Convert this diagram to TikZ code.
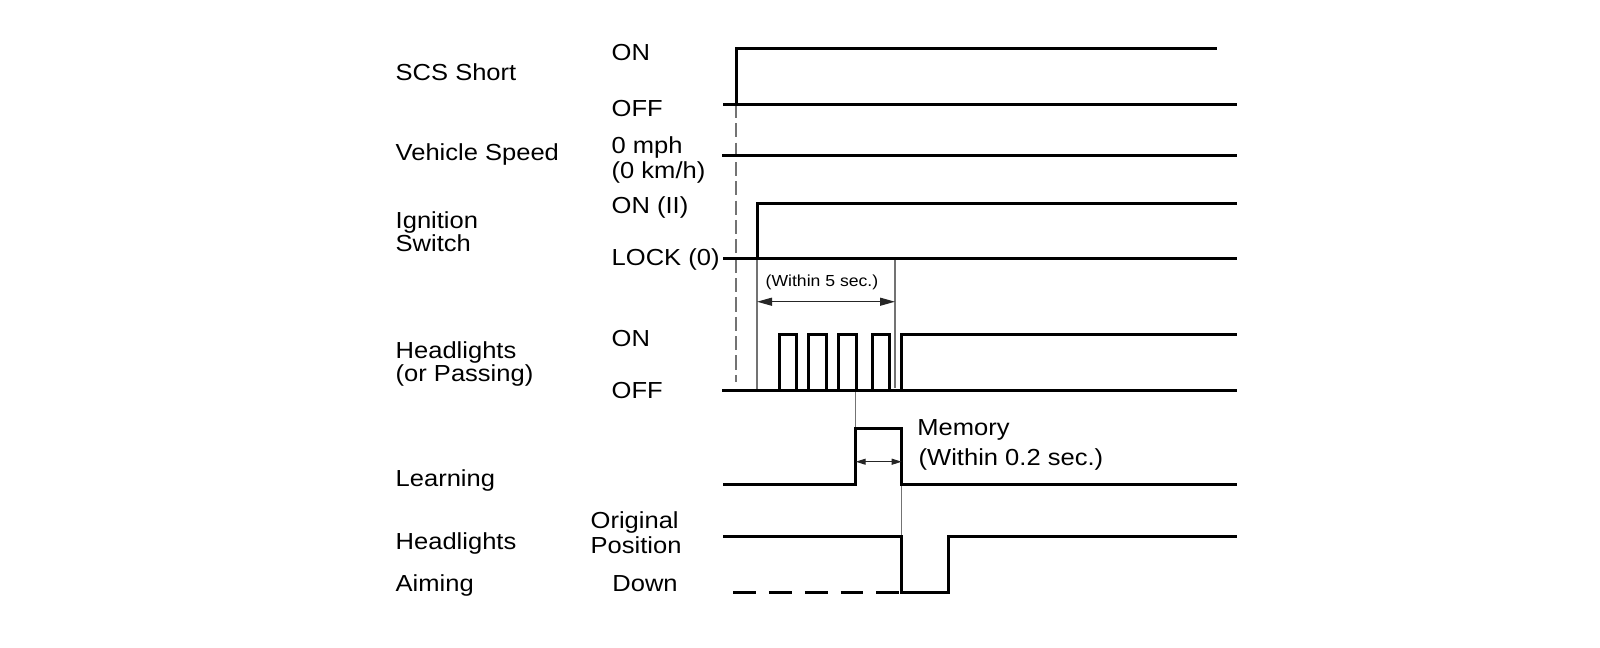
\documentclass[tikz,border=0pt]{standalone}
\usepackage{fontspec}
\setmainfont{Liberation Sans}[FakeStretch=1.1]
\usetikzlibrary{arrows.meta}
\tikzset{
tdsig/.style={line width=0.85pt,line join=miter},
tdguide/.style={black!55,line width=0.3pt},
tdguidedash/.style={tdguide,dash pattern=on 4pt off 1.5pt},
tdlast/.style={tdsig,dash pattern=on 6.5pt off 3.7pt},
tdspan/.style={{Triangle[length=1.5mm,width=0.8mm]}-{Triangle[length=1.5mm,width=0.8mm]},line width=0.35pt,black!85},
tdspansmall/.style={{Triangle[length=1mm,width=0.6mm]}-{Triangle[length=1mm,width=0.6mm]},line width=0.3pt,black!85},
tdtext/.style={anchor=base west,inner sep=0pt,font=\fontsize{6.6}{7}\selectfont},
tdsmall/.style={tdtext,font=\fontsize{4.55}{5}\selectfont}
}
\begin{document}
\begin{tikzpicture}[x=0.01cm,y=-0.01cm]
\useasboundingbox (0,0) rectangle (1600,647);
% signal names
\node[tdtext] (scs) at (395,80.7) {SCS Short};
\node[tdtext] (speed) at (395,160) {Vehicle Speed};
\node[tdtext] (ign) at (395,228) {Ignition};
\node[tdtext] (ignb) at (395,251.5) {Switch};
\node[tdtext] (head) at (395,358.3) {Headlights};
\node[tdtext] (headb) at (395,381.7) {(or Passing)};
\node[tdtext] (learn) at (395,486) {Learning};
\node[tdtext] (aim) at (395,549.3) {Headlights};
\node[tdtext] (aimb) at (395,591.7) {Aiming};
% levels
\node[tdtext] (scson) at (611,60) {ON};
\node[tdtext] (scsoff) at (611,116) {OFF};
\node[tdtext] (mph) at (611,153.3) {0 mph};
\node[tdtext] (kmh) at (611,178) {(0 km/h)};
\node[tdtext] (ignon) at (611,213.3) {ON (II)};
\node[tdtext] (ignlock) at (611,265) {LOCK (0)};
\node[tdtext] (headon) at (611,346) {ON};
\node[tdtext] (headoff) at (611,398.3) {OFF};
\node[tdtext] (orig) at (590,528.3) {Original};
\node[tdtext] (origb) at (590,553.3) {Position};
\node[tdtext] (down) at (611.7,591.7) {Down};
% time marks
\coordinate (t0) at (736,104);
\coordinate (t1) at (757,258);
\coordinate (t2) at (895,258);
\coordinate (t3) at (855.7,390);
\coordinate (t4) at (901.7,484);
% guides
\draw[tdguidedash] (t0) -- (736,382);
\draw[tdguide] (t1) -- (757,390);
\draw[tdguide] (t2) -- (895,388);
\draw[tdguide] (t3) -- (855.7,428);
\draw[tdguide] (t4) -- (901.7,537);
% SCS short
\draw[tdsig] (723,104) -- (1237,104);
\draw[tdsig] (t0) |- (1216.7,48.3);
% vehicle speed
\draw[tdsig] (722,155.3) -- (1237,155.3);
% ignition switch
\draw[tdsig] (723,258.3) -- (1237,258.3);
\draw[tdsig] (757,258.3) |- (1237,203.3);
% headlights (or passing)
\draw[tdsig] (722,390) -- (1237,390);
\foreach \a/\b in {779/796,808.7/826,838.7/856,872.3/889.3}
  \draw[tdsig] (\a,390) |- (\b,334.3) -- (\b,390);
\draw[tdsig] (901.7,390) |- (1237,334.3);
\draw[tdspan] (757,301.7) -- (895,301.7);
\node[tdsmall] (within5) at (765,286.7) {(Within 5 sec.)};
% learning
\draw[tdsig] (723,484.3) -| (855.7,428.3) -| (901.7,484.3) -- (1237,484.3);
\draw[tdspansmall] (855.7,461.7) -- (901.7,461.7);
\node[tdtext] (memory) at (916.7,435) {Memory};
\node[tdtext] (within02) at (918,465) {(Within 0.2 sec.)};
% headlight aiming
\draw[tdsig] (723,536.7) -| (901.7,592.3) -| (948.3,536.7) -- (1237,536.7);
\draw[tdlast] (733,592.3) -- (901.7,592.3);
\end{tikzpicture}
\end{document}
